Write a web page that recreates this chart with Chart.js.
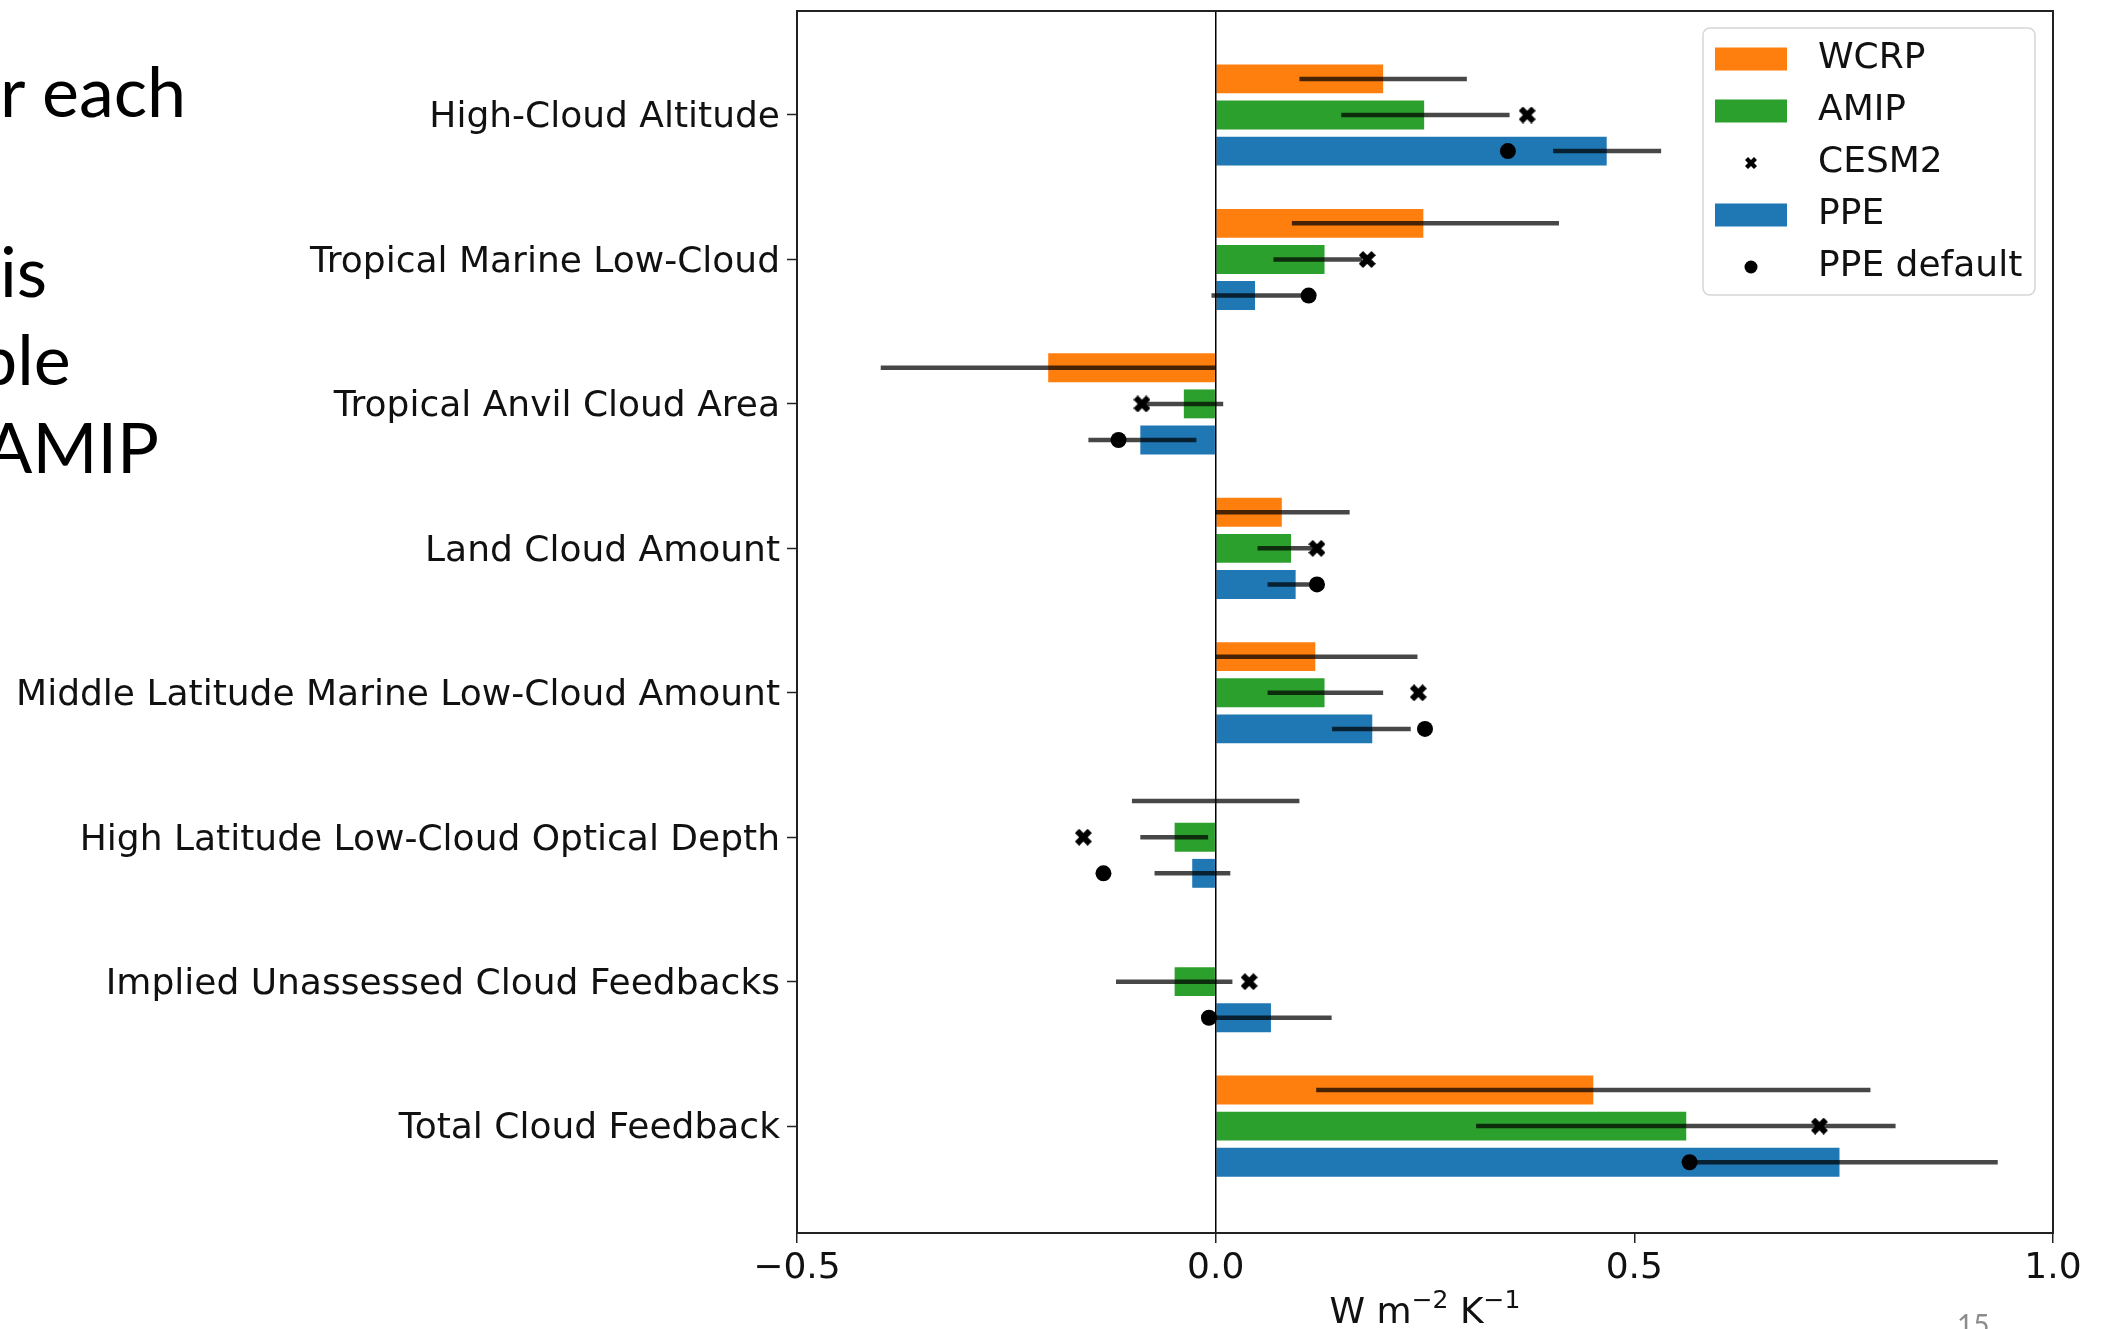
<!DOCTYPE html>
<html>
<head>
<meta charset="utf-8">
<script src="https://cdn.jsdelivr.net/npm/chart.js@4.4.1/dist/chart.umd.min.js"></script>
<style>
html, body { margin: 0; padding: 0; background: #fff; overflow: hidden; }
#wrap { position: relative; width: 2108px; height: 1329px; overflow: hidden; background: #fff; }
#chart { position: absolute; left: 0; top: 0; }
.slide { position: absolute; font-family: Lato, sans-serif; font-size: 70px; line-height: 84px; color: #000; white-space: nowrap; }
.page { position: absolute; font-family: Lato, sans-serif; font-size: 28px; line-height: 34px; color: #8c8c8c; }
</style>
</head>
<body>
<div id="wrap">
  <canvas id="chart" width="2108" height="1329"></canvas>
  <div class="slide" style="left:0px;top:48px">r each</div>
  <div class="slide" style="left:0px;top:228px">is</div>
  <div class="slide" style="left:-22px;top:316px">ble</div>
  <div class="slide" style="left:-15px;top:404px">AMIP</div>
  <div class="page" style="left:1957px;top:1307px">15</div>
</div>
<script>
const categories = [
  'High-Cloud Altitude',
  'Tropical Marine Low-Cloud',
  'Tropical Anvil Cloud Area',
  'Land Cloud Amount',
  'Middle Latitude Marine Low-Cloud Amount',
  'High Latitude Low-Cloud Optical Depth',
  'Implied Unassessed Cloud Feedbacks',
  'Total Cloud Feedback'
];

// WCRP assessment
const wcrp   = [0.20, 0.248, -0.20, 0.079, 0.119, 0.0, null, 0.451];
const wcrpLo = [0.10, 0.091, -0.40, 0.0, 0.0, -0.10, null, 0.12];
const wcrpHi = [0.30, 0.41, 0.0, 0.16, 0.241, 0.10, null, 0.782];

// AMIP
const amip   = [0.249, 0.13, -0.038, 0.09, 0.13, -0.049, -0.049, 0.562];
const amipLo = [0.15, 0.069, -0.088, 0.05, 0.062, -0.09, -0.119, 0.311];
const amipHi = [0.351, 0.175, 0.009, 0.12, 0.20, -0.009, 0.02, 0.812];
const cesm2  = [0.372, 0.181, -0.088, 0.121, 0.242, -0.158, 0.04, 0.721];

// PPE
const ppe        = [0.467, 0.047, -0.09, 0.0955, 0.187, -0.028, 0.066, 0.745];
const ppeLo      = [0.403, -0.005, -0.152, 0.062, 0.139, -0.073, 0.0, 0.567];
const ppeHi      = [0.532, 0.105, -0.023, 0.12, 0.233, 0.0175, 0.1385, 0.934];
const ppeDefault = [0.349, 0.111, -0.116, 0.121, 0.25, -0.134, -0.008, 0.566];

const xTicks = [-0.5, 0, 0.5, 1.0];

const catPct = 0.75;
const slot = catPct / 3;   // offset of each bar in a group, in category units

Chart.defaults.font.family = '"DejaVu Sans", sans-serif';
Chart.defaults.color = '#111';

function pts(vals, off) {
  return vals.map((v, i) => ({ x: v, y: i + off }));
}

// matplotlib style filled "X" marker
function xMarker(size) {
  const c = document.createElement('canvas');
  c.width = c.height = size;
  const g = c.getContext('2d');
  const p = [[-0.25,-0.5],[0,-0.25],[0.25,-0.5],[0.5,-0.25],[0.25,0],[0.5,0.25],
             [0.25,0.5],[0,0.25],[-0.25,0.5],[-0.5,0.25],[-0.25,0],[-0.5,-0.25]];
  g.beginPath();
  p.forEach(([a, b], k) => {
    const x = size / 2 + a * size, y = size / 2 + b * size;
    k ? g.lineTo(x, y) : g.moveTo(x, y);
  });
  g.closePath();
  g.fillStyle = '#000';
  g.fill();
  return c;
}
const xMark = xMarker(17);
const xMarkSmall = xMarker(12);

const ranges = [
  [wcrpLo, wcrpHi, -slot],
  [amipLo, amipHi, 0],
  [ppeLo, ppeHi, slot]
];

const errorBars = {
  id: 'errorBars',
  afterDatasetDraw(chart, args) {
    if (args.index !== 0) return;
    const { ctx, scales: { x, y } } = chart;
    ctx.save();
    ctx.strokeStyle = 'rgba(0,0,0,0.72)';
    ctx.lineWidth = 4.5;
    ranges.forEach(([lo, hi, off]) => {
      lo.forEach((v, i) => {
        if (v === null) return;
        const py = y.getPixelForValue(i + off);
        ctx.beginPath();
        ctx.moveTo(x.getPixelForValue(v), py);
        ctx.lineTo(x.getPixelForValue(hi[i]), py);
        ctx.stroke();
      });
    });
    ctx.restore();
  }
};

// axis title with real superscripts: W m^-2 K^-1
const unitParts = [['W m', 0], ['\u22122', 1], [' K', 0], ['\u22121', 1]];

const frameAndLegend = {
  id: 'frameAndLegend',
  afterDraw(chart) {
    const { ctx, chartArea: a } = chart;
    ctx.save();
    ctx.strokeStyle = '#222';
    ctx.lineWidth = 2;
    ctx.strokeRect(a.left, a.top, a.right - a.left, a.bottom - a.top);

    // x axis title
    ctx.fillStyle = '#111';
    ctx.textBaseline = 'alphabetic';
    const big = '36px "DejaVu Sans"', small = '25px "DejaVu Sans"';
    let tw = 0;
    unitParts.forEach(([t, sup]) => { ctx.font = sup ? small : big; tw += ctx.measureText(t).width; });
    let tx = (a.left + a.right) / 2 - tw / 2;
    const ty = a.bottom + 90;
    unitParts.forEach(([t, sup]) => {
      ctx.font = sup ? small : big;
      ctx.fillText(t, tx, sup ? ty - 15 : ty);
      tx += ctx.measureText(t).width;
    });

    // legend
    const w = 332, h = 267;
    const x0 = a.right - 18 - w, y0 = a.top + 17;
    ctx.beginPath();
    ctx.roundRect(x0, y0, w, h, 7);
    ctx.fillStyle = 'rgba(255,255,255,0.8)';
    ctx.fill();
    ctx.strokeStyle = '#d6d6d6';
    ctx.lineWidth = 1.5;
    ctx.stroke();

    ctx.font = big;
    ctx.textBaseline = 'middle';
    chart.data.datasets.forEach((ds, k) => {
      const cy = y0 + 31 + k * 52;
      const cx = x0 + 48;
      if (ds.type === 'scatter') {
        if (ds.label === 'CESM2') {
          ctx.drawImage(xMarkSmall, cx - 6, cy - 6);
        } else {
          ctx.beginPath();
          ctx.arc(cx, cy, 6.5, 0, Math.PI * 2);
          ctx.fillStyle = '#000';
          ctx.fill();
        }
      } else {
        ctx.fillStyle = ds.backgroundColor;
        ctx.fillRect(x0 + 12, cy - 11.5, 72, 23);
      }
      ctx.fillStyle = '#111';
      ctx.fillText(ds.label, x0 + 115, cy);
    });
    ctx.restore();
  }
};

new Chart(document.getElementById('chart'), {
  type: 'bar',
  data: {
    datasets: [
      { label: 'WCRP', data: pts(wcrp, 0), backgroundColor: '#ff7f0e', borderWidth: 0 },
      { label: 'AMIP', data: pts(amip, 0), backgroundColor: '#2ca02c', borderWidth: 0 },
      { label: 'CESM2', type: 'scatter', data: pts(cesm2, 0), showLine: false,
        pointStyle: xMark, pointRadius: 8.5, order: -1 },
      { label: 'PPE', data: pts(ppe, 0), backgroundColor: '#1f77b4', borderWidth: 0 },
      { label: 'PPE default', type: 'scatter', data: pts(ppeDefault, slot), showLine: false,
        pointStyle: 'circle', pointRadius: 8, backgroundColor: '#000', borderWidth: 0, order: -1 }
    ]
  },
  options: {
    indexAxis: 'y',
    responsive: false,
    animation: false,
    categoryPercentage: catPct,
    barPercentage: 0.8,
    layout: { padding: { left: 0, top: 11, right: 55, bottom: 0 } },
    plugins: { legend: { display: false }, tooltip: { enabled: false } },
    scales: {
      x: {
        type: 'linear',
        min: -0.5,
        max: 1.0,
        afterBuildTicks(s) { s.ticks = xTicks.map(v => ({ value: v })); },
        afterFit(s) { s.height = 96; s.paddingLeft = 0; s.paddingRight = 0; },
        ticks: {
          font: { size: 36 },
          color: '#111',
          padding: 4,
          maxRotation: 0,
          callback: v => (v < 0 ? '\u2212' : '') + Math.abs(v).toFixed(1)
        },
        grid: {
          z: 1,
          color: c => (c.tick && c.tick.value === 0 ? '#000' : 'rgba(0,0,0,0)'),
          lineWidth: 1.5,
          tickColor: '#222',
          tickLength: 10,
          tickWidth: 1.5
        },
        border: { display: false }
      },
      y: {
        type: 'linear',
        reverse: true,
        min: -0.72,
        max: 7.74,
        offset: false,
        afterBuildTicks(s) { s.ticks = categories.map((c, i) => ({ value: i })); },
        afterFit(s) { s.width = 797; s.paddingTop = 0; s.paddingBottom = 0; },
        ticks: {
          font: { size: 36 },
          color: '#111',
          padding: 7,
          labelOffset: 3,
          autoSkip: false,
          callback: v => categories[v]
        },
        grid: {
          offset: false,
          color: 'rgba(0,0,0,0)',
          tickColor: '#222',
          tickLength: 10,
          tickWidth: 1.5
        },
        border: { display: false }
      }
    }
  },
  plugins: [errorBars, frameAndLegend]
});
</script>
</body>
</html>
